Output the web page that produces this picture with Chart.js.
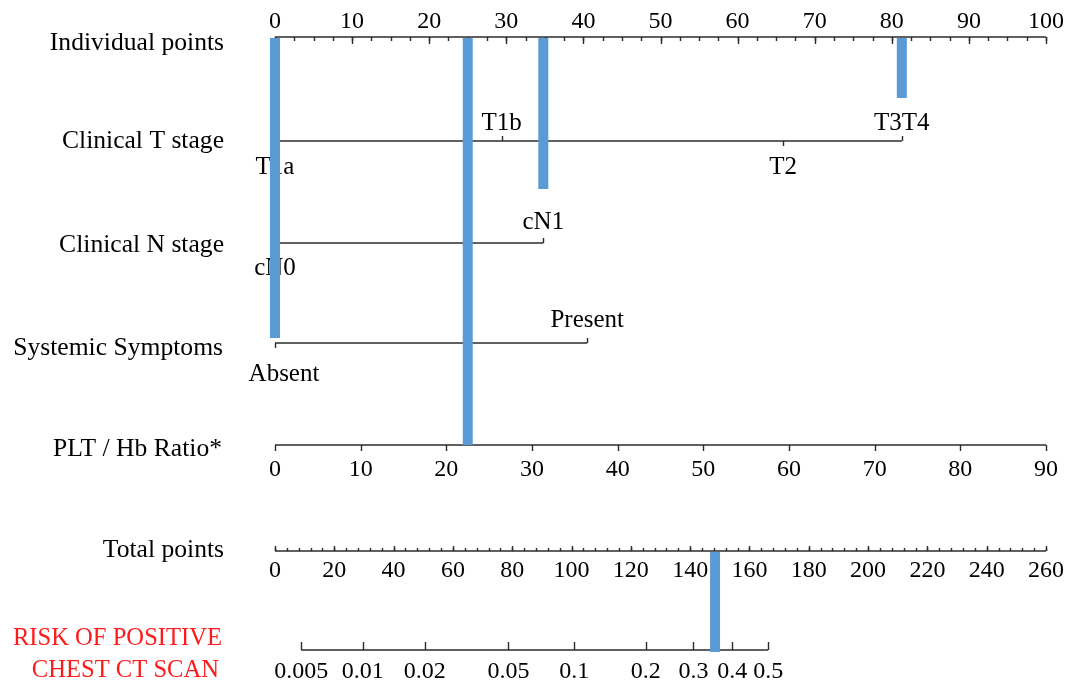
<!DOCTYPE html>
<html>
<head>
<meta charset="utf-8">
<title>Nomogram – risk of positive chest CT scan</title>
<script src="https://cdn.jsdelivr.net/npm/chart.js@4.4.1/dist/chart.umd.min.js"></script>
<style>
  html, body { margin: 0; padding: 0; background: #ffffff; }
  #wrap { width: 1068px; height: 682px; position: relative; }
</style>
</head>
<body>
<div id="wrap"><canvas id="nomogram"></canvas></div>
<script>
// ---- Nomogram data ---------------------------------------------------------
// Individual points scale (0–100), major ticks and minor step
const pointsTicks = [0, 10, 20, 30, 40, 50, 60, 70, 80, 90, 100];
const pointsMinorStep = 2.5;

// Clinical T stage: category levels and their points
const tStageLevels = ['T1a', 'T1b', 'T2', 'T3T4'];
const tStagePoints = [0, 29.4, 65.9, 81.3];
const tStageSide   = ['below', 'above', 'below', 'above'];

// Clinical N stage
const nStageLevels = ['cN0', 'cN1'];
const nStagePoints = [0, 34.8];
const nStageSide   = ['below', 'above'];

// Systemic symptoms
const symptomLevels = ['Absent', 'Present'];
const symptomPoints = [0, 40.5];
const symptomSide   = ['below', 'above'];

// PLT / Hb ratio (continuous, 0–90 maps linearly onto 0–100 points)
const pltTicks = [0, 10, 20, 30, 40, 50, 60, 70, 80, 90];
const pltMax = 90;

// Total points scale
const totalTicks = [0, 20, 40, 60, 80, 100, 120, 140, 160, 180, 200, 220, 240, 260];
const totalMinorStep = 4;
const totalMax = 260;

// Predicted risk (logistic model): total points at logit 0 and points per logit unit
const riskTicks = [0.005, 0.01, 0.02, 0.05, 0.1, 0.2, 0.3, 0.4, 0.5];
const riskTickLabels = ['0.005', '0.01', '0.02', '0.05', '0.1', '0.2', '0.3', '0.4', '0.5'];
const riskLogitZeroPoints = 166.3;
const riskPointsPerLogit = 29.75;

// Highlighted example: points read for each predictor, PLT/Hb value and total
const markerPoints = [0, 34.8, 81.3];
const markerPltRatio = 22.5;
const markerTotal = 148.4;

// ---- Layout (pixel rows, fonts, colours) -----------------------------------
const rows = {
  points: 37, tStage: 141, nStage: 243, symptoms: 343, plt: 445, total: 551, risk: 650
};
const labelBaselines = {
  tStage:   { above: 130, below: 174 },
  nStage:   { above: 229, below: 275 },
  symptoms: { above: 327, below: 381 }
};
const labelNudge = { Absent: 9 };        // keeps the edge label clear of the margin
const markerBottoms = [338, 189, 98];   // end rows of the three individual-point markers
const pltMarkerBottom = 445;
const totalMarkerSpan = [552, 652];
const NUM_FONT = '24px "Liberation Serif", "Times New Roman", serif';
const CAT_FONT = '25px "Liberation Serif", "Times New Roman", serif';
const TITLE_FONT = '25.6px "Liberation Serif", "Times New Roman", serif';
const RISK_FONT = '24.6px "Liberation Serif", "Times New Roman", serif';
const INK = '#000000';
const AXIS = '#2b2b2b';
const BLUE = '#5b9bd5';

// ---- Helpers mapping every scale onto the 0–100 points axis ------------------
const fromPlt = v => v * 100 / pltMax;
const fromTotal = t => t * 100 / totalMax;
const logit = p => Math.log(p / (1 - p));
const fromRisk = p => fromTotal(riskLogitZeroPoints + riskPointsPerLogit * logit(p));

function axisLine(x0, x1, y) {
  return {
    type: 'line',
    data: [{ x: x0, y: y }, { x: x1, y: y }],
    borderColor: AXIS, borderWidth: 1.6, pointRadius: 0,
    clip: false, order: 2
  };
}
function marker(x, y0, y1) {
  return {
    type: 'line',
    data: [{ x: x, y: y0 }, { x: x, y: y1 }],
    borderColor: BLUE, borderWidth: 10, borderCapStyle: 'butt', pointRadius: 0,
    clip: false, order: 0
  };
}

const datasets = [
  axisLine(0, 100, rows.points),
  axisLine(0, Math.max(...tStagePoints), rows.tStage),
  axisLine(0, Math.max(...nStagePoints), rows.nStage),
  axisLine(0, Math.max(...symptomPoints), rows.symptoms),
  axisLine(0, fromPlt(pltMax), rows.plt),
  axisLine(0, fromTotal(totalMax), rows.total),
  axisLine(fromRisk(riskTicks[0]), fromRisk(riskTicks[riskTicks.length - 1]), rows.risk),
  marker(markerPoints[0], rows.points + 1, markerBottoms[0]),
  marker(fromPlt(markerPltRatio), rows.points + 1, pltMarkerBottom),
  marker(markerPoints[1], rows.points + 1, markerBottoms[1]),
  marker(markerPoints[2], rows.points + 1, markerBottoms[2]),
  marker(fromTotal(markerTotal), totalMarkerSpan[0], totalMarkerSpan[1])
];

// Ticks, tick labels, category labels and row titles
const nomogramText = {
  id: 'nomogramText',
  beforeDatasetsDraw(chart) {
    const ctx = chart.ctx;
    const xs = chart.scales.x, ys = chart.scales.y;
    const px = v => xs.getPixelForValue(v);
    const py = v => ys.getPixelForValue(v);
    ctx.save();
    ctx.strokeStyle = AXIS;
    ctx.lineWidth = 1.4;
    ctx.fillStyle = INK;

    const tick = (v, y, len) => {
      const x = Math.round(px(v)) + 0.5;
      ctx.beginPath();
      ctx.moveTo(x, py(y));
      ctx.lineTo(x, py(y) + len);
      ctx.stroke();
    };
    const text = (s, x, y, align) => {
      ctx.textAlign = align || 'center';
      ctx.textBaseline = 'alphabetic';
      ctx.fillText(s, x, y);
    };

    // Individual points
    ctx.font = NUM_FONT;
    for (let v = 0; v <= 100 + 1e-9; v += pointsMinorStep) tick(v, rows.points, 4);
    pointsTicks.forEach(v => { tick(v, rows.points, 7); text(String(v), px(v), 28); });

    // Categorical predictors
    ctx.font = CAT_FONT;
    const category = (levels, pts, sides, row, base) => {
      levels.forEach((lab, i) => {
        const up = sides[i] === 'above';
        tick(pts[i], row, up ? -5 : 5);
        text(lab, px(pts[i]) + (labelNudge[lab] || 0), up ? base.above : base.below);
      });
    };
    category(tStageLevels, tStagePoints, tStageSide, rows.tStage, labelBaselines.tStage);
    category(nStageLevels, nStagePoints, nStageSide, rows.nStage, labelBaselines.nStage);
    category(symptomLevels, symptomPoints, symptomSide, rows.symptoms, labelBaselines.symptoms);

    // PLT / Hb ratio
    ctx.font = NUM_FONT;
    pltTicks.forEach(v => { tick(fromPlt(v), rows.plt, 6); text(String(v), px(fromPlt(v)), 476); });

    // Total points
    for (let t = 0; t <= totalMax + 1e-9; t += totalMinorStep) tick(fromTotal(t), rows.total, -3);
    totalTicks.forEach(t => { tick(fromTotal(t), rows.total, -5); text(String(t), px(fromTotal(t)), 577); });

    // Risk
    riskTicks.forEach((p, i) => { tick(fromRisk(p), rows.risk, -8); text(riskTickLabels[i], px(fromRisk(p)), 678); });

    // Row titles
    ctx.font = TITLE_FONT;
    const right = 224;
    text('Individual points', right, 50, 'right');
    text('Clinical T stage', right, 148, 'right');
    text('Clinical N stage', right, 252, 'right');
    text('Systemic Symptoms', right - 1, 355, 'right');
    text('PLT / Hb Ratio*', right - 2, 456, 'right');
    text('Total points', right, 557, 'right');
    ctx.font = RISK_FONT;
    ctx.fillStyle = '#ff1a1a';
    text('RISK OF POSITIVE', 222, 645, 'right');
    text('CHEST CT SCAN', 219, 677, 'right');
    ctx.restore();
  }
};

new Chart(document.getElementById('nomogram'), {
  type: 'scatter',
  data: { datasets: datasets },
  options: {
    responsive: true,
    maintainAspectRatio: false,
    animation: false,
    events: [],
    layout: { padding: { left: 275, right: 22, top: 0, bottom: 0 } },
    scales: {
      x: { type: 'linear', min: 0, max: 100, display: false },
      y: { type: 'linear', min: 0, max: 682, reverse: true, display: false }
    },
    plugins: { legend: { display: false }, tooltip: { enabled: false } }
  },
  plugins: [nomogramText]
});
</script>
</body>
</html>
